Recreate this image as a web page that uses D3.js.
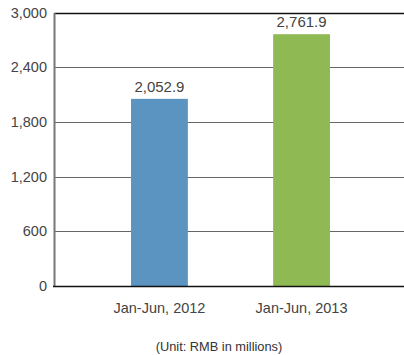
<!DOCTYPE html>
<html>
<head>
<meta charset="utf-8">
<script src="https://cdn.jsdelivr.net/npm/d3@7"></script>
<style>
  html, body { margin: 0; padding: 0; background: #fff; }
  svg { display: block; }
  text { font-family: "Liberation Sans", Arial, sans-serif; }
</style>
</head>
<body>
<div id="chart"></div>
<script>
// Half-year values (RMB in millions)
const categories = ["Jan-Jun, 2012", "Jan-Jun, 2013"];
const values = [2052.9, 2761.9];
const barColors = ["#5b93c1", "#8fba53"];
const yTicks = [0, 600, 1200, 1800, 2400, 3000];
const unitLabel = "(Unit: RMB in millions)";

const width = 404, height = 355;
const plot = { left: 54, right: 404, top: 12.5, bottom: 286 };

const svg = d3.select("#chart").append("svg")
  .attr("width", width).attr("height", height);

const y = d3.scaleLinear().domain([0, 3000]).range([plot.bottom, plot.top]);
const x = d3.scaleBand().domain(categories)
  .range([plot.left, 407]).paddingInner(0.6).paddingOuter(0.542);

// Horizontal gridlines
svg.append("g").selectAll("line")
  .data(yTicks.filter(t => t > 0))
  .join("line")
  .attr("x1", plot.left).attr("x2", plot.right)
  .attr("y1", d => Math.round(y(d)) + 0.5).attr("y2", d => Math.round(y(d)) + 0.5)
  .attr("stroke", d => d === 3000 ? "#111" : "#666")
  .attr("stroke-width", d => d === 3000 ? 1.3 : 1.2);

// Bars
svg.append("g").selectAll("rect")
  .data(values)
  .join("rect")
  .attr("x", (d, i) => x(categories[i]))
  .attr("width", x.bandwidth())
  .attr("y", d => y(d))
  .attr("height", d => plot.bottom - y(d))
  .attr("fill", (d, i) => barColors[i]);

// Value labels
svg.append("g").selectAll("text")
  .data(values)
  .join("text")
  .attr("x", (d, i) => x(categories[i]) + x.bandwidth() / 2)
  .attr("y", d => y(d) - 7)
  .attr("text-anchor", "middle")
  .attr("font-size", 15)
  .attr("fill", "#444")
  .text(d => d3.format(",.1f")(d));

// Y axis
const yAxis = d3.axisLeft(y).tickValues(yTicks).tickFormat(d3.format(",")).tickSize(0).tickPadding(7);
const gy = svg.append("g").attr("transform", `translate(${plot.left},0)`).call(yAxis);
gy.select(".domain").attr("stroke", "#777").attr("stroke-width", 2);
gy.selectAll("text").attr("font-size", 14.5).attr("fill", "#444")
  .attr("font-family", "Liberation Sans, Arial, sans-serif");

// Baseline
svg.append("line")
  .attr("x1", plot.left - 1).attr("x2", plot.right)
  .attr("y1", plot.bottom + 0.5).attr("y2", plot.bottom + 0.5)
  .attr("stroke", "#111").attr("stroke-width", 1.3);

// X axis labels
const xAxis = d3.axisBottom(x).tickSize(0).tickPadding(17);
const gx = svg.append("g").attr("transform", `translate(0,${plot.bottom})`).call(xAxis);
gx.select(".domain").remove();
gx.selectAll("text").attr("font-size", 14.5).attr("fill", "#444")
  .attr("font-family", "Liberation Sans, Arial, sans-serif");

// Unit note
svg.append("text")
  .attr("x", 219).attr("y", 350.5)
  .attr("text-anchor", "middle")
  .attr("font-size", 12.8)
  .attr("fill", "#333")
  .attr("font-family", "Open Sans, sans-serif")
  .text(unitLabel);
</script>
</body>
</html>
